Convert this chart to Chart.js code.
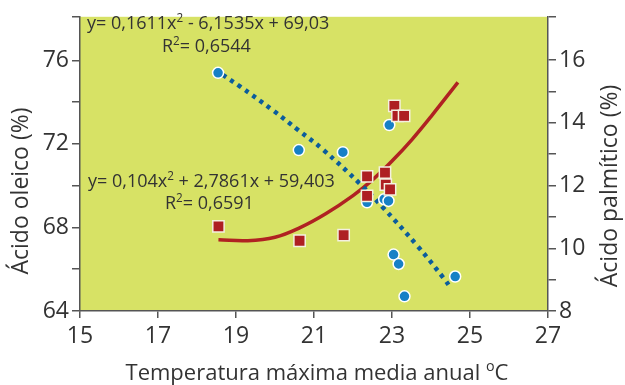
<!DOCTYPE html>
<html>
<head>
<meta charset="utf-8">
<script src="https://cdn.jsdelivr.net/npm/chart.js@4.4.0/dist/chart.umd.min.js"></script>
<style>
  html, body { margin: 0; padding: 0; background: #fff; }
  #wrap { width: 625px; height: 385px; position: relative; }
</style>
</head>
<body>
<div id="wrap"><canvas id="chart"></canvas></div>
<script>
// oleic acid (left axis) - blue dots
const tempOleic = [18.54, 20.61, 21.74, 22.93, 22.36, 22.80, 22.91, 23.04, 23.17, 23.32, 24.62];
const oleic = [75.4, 71.7, 71.6, 72.9, 69.2, 69.35, 69.27, 66.7, 66.25, 64.7, 65.65];

// palmitic acid (right axis) - red squares
const tempPalm = [18.55, 20.63, 21.76, 22.36, 22.36, 22.82, 22.84, 22.95, 23.06, 23.14, 23.31];
const palm = [10.7, 10.24, 10.42, 12.29, 11.67, 12.41, 12.03, 11.88, 14.54, 14.22, 14.22];

// trend lines
const oleicTrendX = [18.66, 19.1, 19.95, 20.6, 21.22, 22.2, 22.76, 23.65, 24.33, 24.5];
const oleicTrendY = [75.3, 74.75, 73.6, 72.65, 71.74, 70.05, 68.97, 67.12, 65.56, 65.12];
const palmTrendX = [18.55, 19.3, 20.0, 20.63, 21.3, 22.0, 22.5, 23.0, 23.5, 24.0, 24.69];
const palmTrendY = [10.27, 10.24, 10.35, 10.65, 11.1, 11.68, 12.18, 12.78, 13.45, 14.2, 15.29];

const xTicks = [15, 17, 19, 21, 23, 25, 27];
const leftTicks = [64, 66, 68, 70, 72, 74, 76, 78.08];
const leftLabels = [64, 68, 72, 76];
const rightTicks = [8, 9, 10, 11, 12, 13, 14, 15, 16, 17.38];
const rightLabels = [8, 10, 12, 14, 16];

const eq1 = 'y= 0,1611x^2 - 6,1535x + 69,03';
const r1 = 'R^2= 0,6544';
const eq2 = 'y= 0,104x^2 + 2,7861x + 59,403';
const r2 = 'R^2= 0,6591';
const xTitle = 'Temperatura máxima media anual ^oC';
const leftTitle = 'Ácido oleico (%)';
const rightTitle = 'Ácido palmítico (%)';

const FONT = '"Open Sans", sans-serif';
const TEXT = '#333';
const AXIS = '#555';

function pts(xs, ys) {
    return xs.map((x, i) => ({ x: x, y: ys[i] }));
}

// draws text, "^c" makes c a superscript
function richText(ctx, str, x, y, size, align) {
    let parts = str.split(/\^(.)/);
    let widths = parts.map((p, i) => {
        ctx.font = (i % 2 ? size * 0.65 : size) + 'px ' + FONT;
        return ctx.measureText(p).width;
    });
    let total = widths.reduce((a, b) => a + b, 0);
    let cx = align === 'center' ? x - total / 2 : x;
    ctx.textAlign = 'left';
    ctx.textBaseline = 'alphabetic';
    parts.forEach((p, i) => {
        ctx.font = (i % 2 ? size * 0.65 : size) + 'px ' + FONT;
        ctx.fillText(p, cx, i % 2 ? y - size * 0.4 : y);
        cx += widths[i];
    });
}

const decor = {
    id: 'decor',
    beforeDraw(chart) {
        let a = chart.chartArea, ctx = chart.ctx;
        ctx.save();
        ctx.fillStyle = '#d7e265';
        ctx.fillRect(a.left, a.top, a.right - a.left, a.bottom - a.top);
        ctx.restore();
    },
    afterDraw(chart) {
        let ctx = chart.ctx;
        ctx.save();
        ctx.fillStyle = TEXT;
        richText(ctx, eq1, 87, 29, 18);
        richText(ctx, r1, 162, 52, 18);
        richText(ctx, eq2, 88, 187, 18);
        richText(ctx, r2, 165, 209, 18);
        richText(ctx, xTitle, 317, 380, 22, 'center');

        ctx.translate(28, 191);
        ctx.rotate(-Math.PI / 2);
        richText(ctx, leftTitle, 0, 0, 23, 'center');
        ctx.restore();

        ctx.save();
        ctx.fillStyle = TEXT;
        ctx.translate(617, 186);
        ctx.rotate(-Math.PI / 2);
        richText(ctx, rightTitle, 0, 0, 23, 'center');
        ctx.restore();
    }
};

function setTicks(list) {
    return s => { s.ticks = list.map(v => ({ value: v })); };
}

let ctx = document.getElementById('chart').getContext('2d');
new Chart(ctx, {
    type: 'scatter',
    plugins: [decor],
    data: {
        datasets: [
            {
                label: 'Ácido palmítico',
                data: pts(tempPalm, palm),
                yAxisID: 'yR',
                pointStyle: 'rect',
                pointRadius: 8,
                backgroundColor: '#ae1f22',
                borderColor: '#f4f0e0',
                borderWidth: 1.5
            },
            {
                label: 'Ácido oleico',
                data: pts(tempOleic, oleic),
                yAxisID: 'yL',
                pointRadius: 5.5,
                backgroundColor: '#1680c6',
                borderColor: '#ffffff',
                borderWidth: 1.5
            },
            {
                type: 'line',
                data: pts(oleicTrendX, oleicTrendY),
                yAxisID: 'yL',
                pointRadius: 0,
                borderColor: '#0b5d9c',
                borderWidth: 4.5,
                borderDash: [4, 5],
                borderCapStyle: 'butt',
                tension: 0.4,
                fill: false
            },
            {
                type: 'line',
                data: pts(palmTrendX, palmTrendY),
                yAxisID: 'yR',
                pointRadius: 0,
                borderColor: '#b02222',
                borderWidth: 3.5,
                tension: 0.4,
                fill: false
            }
        ]
    },
    options: {
        responsive: true,
        maintainAspectRatio: false,
        animation: false,
        layout: { padding: { top: 6, left: 0, right: 0, bottom: 0 } },
        plugins: { legend: { display: false }, tooltip: { enabled: false } },
        scales: {
            x: {
                type: 'linear',
                position: 'bottom',
                min: 15,
                max: 27,
                afterBuildTicks: setTicks(xTicks),
                afterFit: s => { s.height = 74; },
                ticks: { font: { family: FONT, size: 23 }, color: TEXT, padding: 5 },
                grid: { drawOnChartArea: false, tickLength: 7, color: AXIS, lineWidth: 1.5 },
                border: { color: AXIS, width: 1.5 }
            },
            yL: {
                type: 'linear',
                position: 'left',
                min: 64,
                max: 78.08,
                afterBuildTicks: setTicks(leftTicks),
                afterFit: s => { s.width = 80; },
                ticks: {
                    font: { family: FONT, size: 23 },
                    color: TEXT,
                    padding: 3,
                    callback: v => leftLabels.includes(v) ? String(v) : ''
                },
                grid: { drawOnChartArea: false, tickLength: 8, color: AXIS, lineWidth: 1.5 },
                border: { color: AXIS, width: 1.5 }
            },
            yR: {
                type: 'linear',
                position: 'right',
                min: 8,
                max: 17.38,
                afterBuildTicks: setTicks(rightTicks),
                afterFit: s => { s.width = 77; },
                ticks: {
                    font: { family: FONT, size: 23 },
                    color: TEXT,
                    padding: 3,
                    callback: v => rightLabels.includes(v) ? String(v) : ''
                },
                grid: { drawOnChartArea: false, tickLength: 8, color: AXIS, lineWidth: 1.5 },
                border: { color: AXIS, width: 1.5 }
            }
        }
    }
});
</script>
</body>
</html>
